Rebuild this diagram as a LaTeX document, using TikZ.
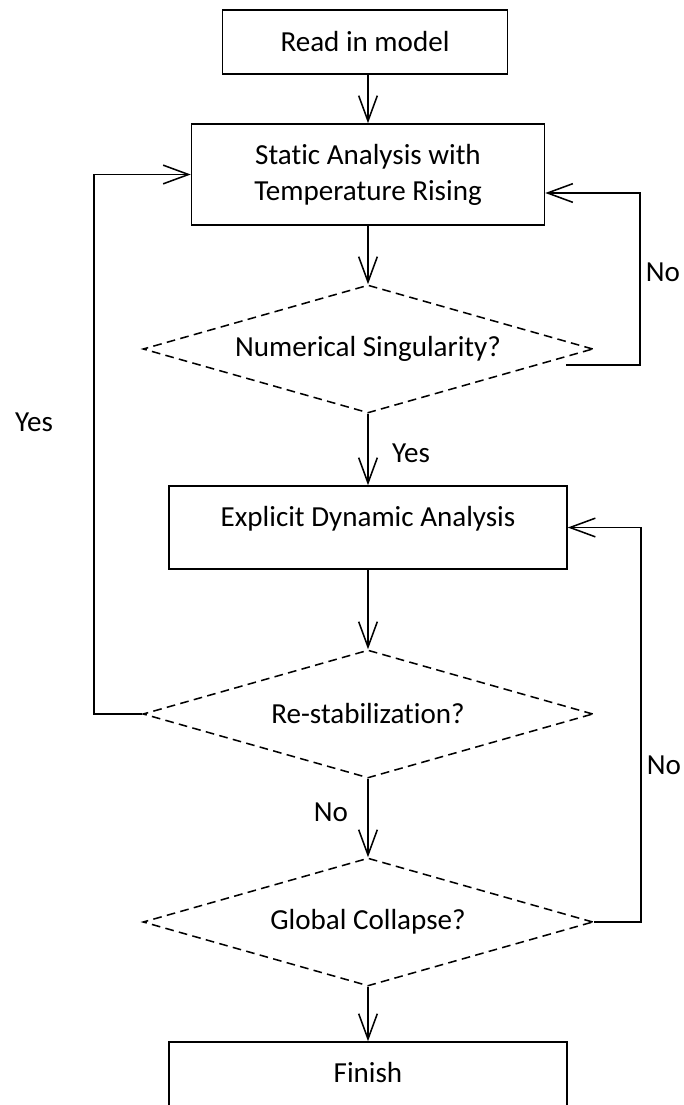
\documentclass[tikz,border=0pt]{standalone}
\usepackage{fontspec}
\setmainfont{Carlito}[Ligatures=NoCommon]
\usepackage{tikz}
\usetikzlibrary{arrows.meta, positioning, shapes.geometric, calc}

\tikzset{
  flow/.style={-{Straight Barb[length=19pt,width=14pt]}, line width=1.15pt},
  stepbox/.style={draw, line width=1.15pt, align=center, inner sep=0pt},
  dynbox/.style={stepbox, minimum width=298.5pt, minimum height=62.25pt,
    text height=15pt, text depth=17pt},
  query/.style={draw, diamond, dash pattern=on 6.5pt off 4pt, line width=1.15pt,
    shape aspect=3.5, inner sep=0pt, minimum width=337.5pt, minimum height=96pt},
  answer/.style={inner sep=0pt}
}

\begin{document}
\begin{tikzpicture}[x=0.75pt,y=-0.75pt,
    every node/.style={font=\fontsize{21.8}{27}\selectfont}]
  \useasboundingbox (0,0) rectangle (683,1105);
  % main column
  \node[stepbox, minimum width=213.75pt, minimum height=48pt] (read) at (365,42) {Read in model};
  \node[stepbox, minimum width=264.75pt, minimum height=75.75pt] (static) at (368,174.5)
    {Static Analysis with\\Temperature Rising};
  \node[query] (num) at (368,349) {Numerical Singularity?};
  \node[dynbox] (explicit) at (368,527.5) {Explicit Dynamic Analysis};
  \node[query] (rest) at (368,714) {Re-stabilization?};
  \node[query] (glob) at (368,922) {Global Collapse?};
  \node[dynbox] (finish) at (368,1083.5) {Finish};

  % labels
  \node[answer] (yesleft) at (34,422) {Yes};
  \node[answer] (notop) at (663,272) {No};
  \node[answer] (yesmid) at (411,453) {Yes};
  \node[answer] (nomid) at (331,812) {No};
  \node[answer] (nobottom) at (664,765) {No};

  % connectors
  \draw[flow] (read.south -| static.north) -- (static.north);
  \draw[flow] (static.south) -- (num.north);
  \draw[flow] (num.south) -- (explicit.north);
  \draw[flow] (explicit.south) -- (rest.north);
  \draw[flow] (rest.south) -- (glob.north);
  \draw[flow] (glob.south) -- (finish.north);

  % loops
  \coordinate (numout) at ($(num.east)+(-28,16)$);
  \coordinate (staticin) at ($(static.east)+(0,18.5)$);
  \draw[flow] (numout) -- ++(74,0) |- (staticin);
  \draw[flow] (rest.west) -- ++(-48,0) |- (static.west);
  \draw[flow] (glob.east) -- ++(47,0) |- (explicit.east);
\end{tikzpicture}
\end{document}
